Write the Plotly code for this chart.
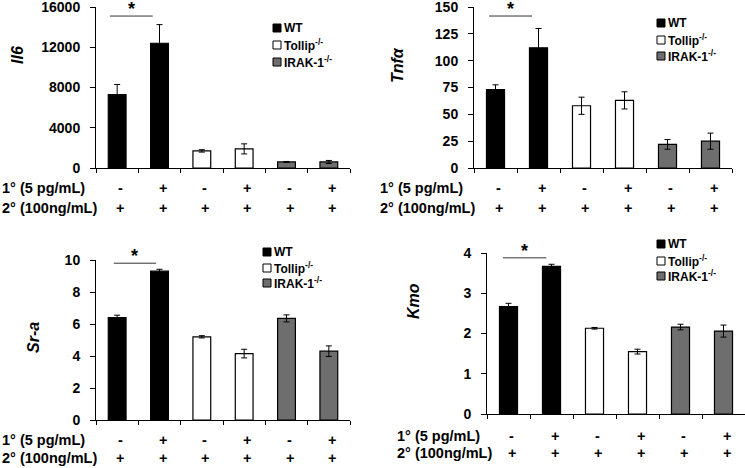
import plotly.graph_objects as go

W, H = 745, 468

groups = ["WT", "Tollip<sup>-/-</sup>", "IRAK-1<sup>-/-</sup>"]
group_colors = ["#000000", "#ffffff", "#6e6e6e"]
primary = ["-", "+", "-", "+", "-", "+"]
secondary = ["+", "+", "+", "+", "+", "+"]
row1_label = "1° (5 pg/mL)"
row2_label = "2° (100ng/mL)"

il6 = [7300, 12400, 1700, 1900, 600, 600]
il6_err = [1000, 1850, 120, 500, 50, 150]
il6_ticks = [0, 4000, 8000, 12000, 16000]
tnfa = [73, 112, 58, 63, 22, 25]
tnfa_err = [4.5, 18, 8, 8, 4.5, 7.5]
tnfa_ticks = [0, 25, 50, 75, 100, 125, 150]
sra = [6.4, 9.3, 5.2, 4.15, 6.35, 4.3]
sra_err = [0.15, 0.12, 0.07, 0.27, 0.22, 0.33]
sra_ticks = [0, 2, 4, 6, 8, 10]
kmo = [2.67, 3.67, 2.13, 1.55, 2.16, 2.06]
kmo_err = [0.08, 0.05, 0.02, 0.06, 0.07, 0.15]
kmo_ticks = [0, 1, 2, 3, 4]

panels = [
    dict(title="<b><i>Il6</i></b>", vals=il6, err=il6_err, ticks=il6_ticks,
         px_x=(96, 350), px_y=(7, 168), sig=(-0.17, 0.84, 15100), title_xy=(17, 55),
         legend=(273, (28, 45, 62)), rows_y=(188, 208), row_x=0),
    dict(title="<b><i>Tnfα</i></b>", vals=tnfa, err=tnfa_err, ticks=tnfa_ticks,
         px_x=(474, 732), px_y=(7, 168), sig=(-0.15, 0.85, 141.6), title_xy=(398, 65),
         legend=(657, (23, 40, 56)), rows_y=(188, 208), row_x=378),
    dict(title="<b><i>Sr-a</i></b>", vals=sra, err=sra_err, ticks=sra_ticks,
         px_x=(96, 350), px_y=(260, 420), sig=(-0.08, 0.92, 9.8), title_xy=(33, 338),
         legend=(263, (252, 268, 283)), rows_y=(440, 458), row_x=0),
    dict(title="<b><i>Kmo</i></b>", vals=kmo, err=kmo_err, ticks=kmo_ticks,
         px_x=(487, 745), px_y=(253, 414), sig=(-0.13, 0.88, 3.88), title_xy=(413, 301),
         legend=(657, (244, 261, 276)), rows_y=(436, 453), row_x=395),
]

FONT = "Liberation Sans, Arial, sans-serif"
fig = go.Figure()
layout = dict(width=W, height=H, margin=dict(l=0, r=0, t=0, b=0, autoexpand=False),
              paper_bgcolor="white", plot_bgcolor="white", barmode="overlay",
              showlegend=False,
              font=dict(family=FONT, color="black"), annotations=[], shapes=[])

for i, p in enumerate(panels, start=1):
    xs = "" if i == 1 else str(i)
    xa, ya = "x" + xs, "y" + xs
    for g in range(3):
        idx = [2 * g, 2 * g + 1]
        fig.add_trace(go.Bar(
            x=idx, y=[p["vals"][k] for k in idx],
            error_y=dict(type="data", array=[p["err"][k] for k in idx], color="black",
                         thickness=1, width=3),
            marker=dict(color=group_colors[g], line=dict(color="black", width=1.2)),
            width=0.42, name=groups[g], xaxis=xa, yaxis=ya))
    x0, x1 = p["px_x"]
    y0, y1 = p["px_y"]
    layout["xaxis" + xs] = dict(domain=[x0 / W, x1 / W], range=[-0.5, 5.5], anchor=ya,
                                tickvals=[-0.5, 0.5, 1.5, 2.5, 3.5, 4.5, 5.5], ticks="outside",
                                ticklen=4, tickcolor="black", showticklabels=False,
                                showline=True, linecolor="black", linewidth=1,
                                showgrid=False, zeroline=False, automargin=False)
    layout["yaxis" + xs] = dict(domain=[1 - y1 / H, 1 - y0 / H],
                                range=[p["ticks"][0], p["ticks"][-1]],
                                tickvals=p["ticks"], ticktext=["<b>%d</b>" % t for t in p["ticks"]],
                                anchor=xa, ticks="outside", ticklen=5, tickcolor="black",
                                ticklabelstandoff=7, ticklabeloverflow="allow",
                                showline=True, linecolor="black", linewidth=1, showgrid=False,
                                zeroline=False, automargin=False,
                                tickfont=dict(family=FONT, size=14))
    # y-axis title
    tx, ty = p["title_xy"]
    layout["annotations"].append(dict(x=tx / W, y=1 - ty / H, xref="paper", yref="paper",
                                      text=p["title"], textangle=-90, showarrow=False,
                                      xanchor="center", yanchor="middle",
                                      font=dict(family=FONT, size=16)))
    # legend
    lx, lys = p["legend"]
    for g in range(3):
        cy = lys[g]
        layout["shapes"].append(dict(type="rect", xref="paper", yref="paper",
                                     x0=lx / W, x1=(lx + 8) / W,
                                     y0=1 - (cy + 4) / H, y1=1 - (cy - 4) / H,
                                     fillcolor=group_colors[g], line=dict(color="black", width=1)))
        layout["annotations"].append(dict(x=(lx + 9) / W, y=1 - cy / H, xref="paper", yref="paper",
                                          text="<b>" + groups[g] + "</b>", showarrow=False,
                                          xanchor="left", yanchor="middle",
                                          font=dict(family=FONT, size=12)))
    # significance bar and star
    sx0, sx1, sy = p["sig"]
    layout["shapes"].append(dict(type="line", xref=xa, yref=ya, x0=sx0, x1=sx1, y0=sy, y1=sy,
                                 line=dict(color="#333333", width=1)))
    layout["annotations"].append(dict(x=(sx0 + sx1) / 2, y=sy, xref=xa, yref=ya, text="<b>*</b>",
                                      showarrow=False, yanchor="middle", yshift=7,
                                      font=dict(family=FONT, size=18)))
    # treatment rows
    r1, r2 = p["rows_y"]
    for lab, ry in ((row1_label, r1), (row2_label, r2)):
        layout["annotations"].append(dict(x=p["row_x"] / W, y=1 - ry / H, xref="paper", yref="paper",
                                          text="<b>" + lab + "</b>", showarrow=False,
                                          xanchor="left", yanchor="middle",
                                          font=dict(family=FONT, size=14.5)))
    for k in range(6):
        for sym, ry in ((primary[k], r1), (secondary[k], r2)):
            layout["annotations"].append(dict(x=k, y=1 - ry / H, xref=xa, yref="paper",
                                              text="<b>" + sym + "</b>", showarrow=False,
                                              xanchor="center", yanchor="middle", xshift=3,
                                              font=dict(family=FONT, size=14.5)))

fig.update_layout(**layout)
fig.write_html("out.html", config={"displayModeBar": False},
               post_script="document.body.style.margin='0';document.body.style.overflow='hidden';")
